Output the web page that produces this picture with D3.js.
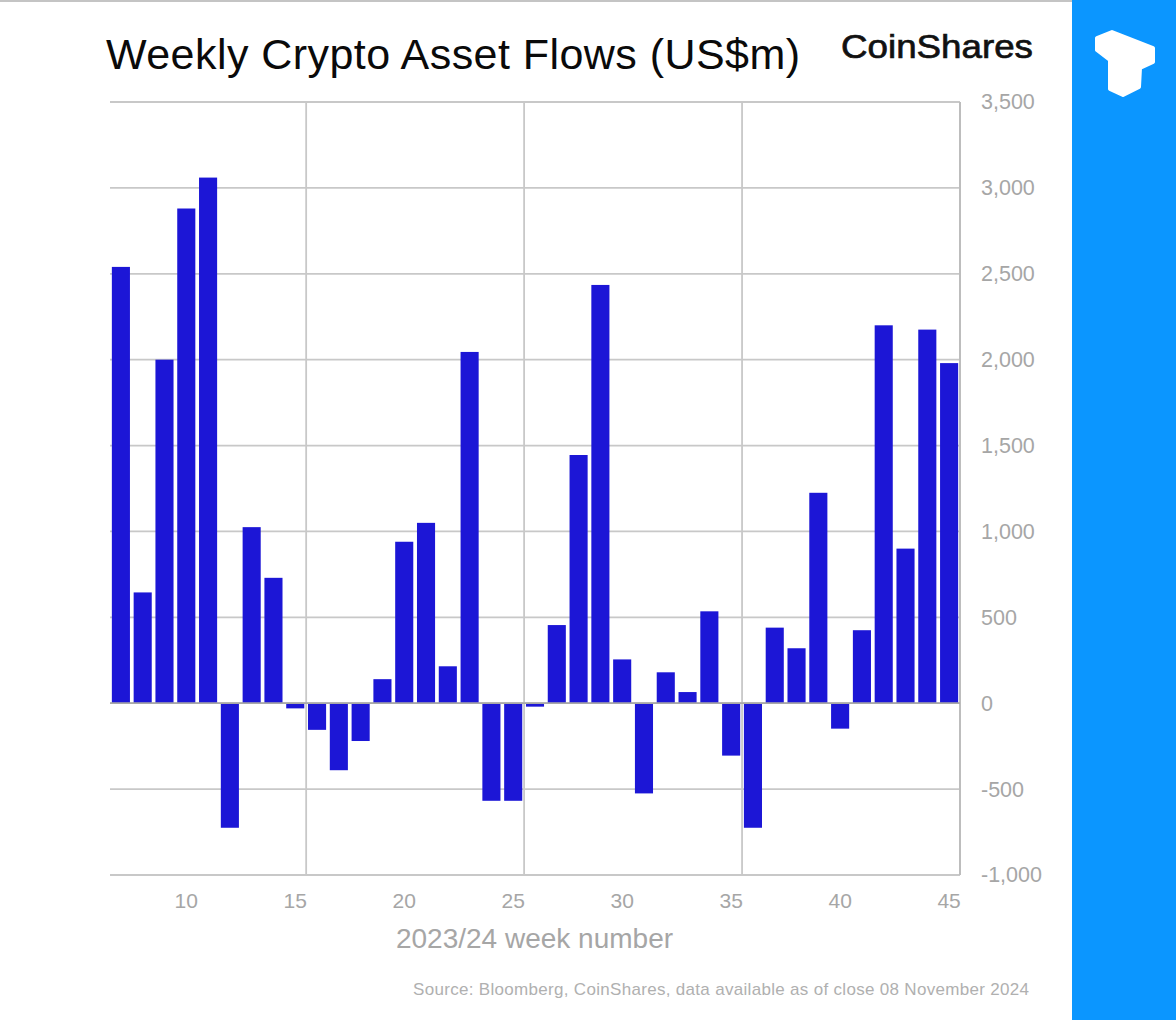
<!DOCTYPE html>
<html><head><meta charset="utf-8">
<script src="https://cdn.jsdelivr.net/npm/d3@7"></script>
<style>html,body{margin:0;padding:0;background:#fff;overflow:hidden}svg{display:block}text{font-family:"Liberation Sans",Arial,sans-serif}</style>
</head><body><svg id="c" width="1176" height="1020"></svg>
<script>
const weeks=[7,8,9,10,11,12,13,14,15,16,17,18,19,20,21,22,23,24,25,26,27,28,29,30,31,32,33,34,35,36,37,38,39,40,41,42,43,44,45];
const flows=[2540,645,2000,2880,3060,-725,1025,730,-30,-155,-390,-220,140,940,1050,215,2045,-568,-568,-20,455,1445,2435,255,-525,180,65,535,-305,-725,440,320,1225,-148,425,2200,900,2175,1980];
const yTicks=[-1000,-500,0,500,1000,1500,2000,2500,3000,3500];
const xTicks=[10,15,20,25,30,35,40,45];
const gridWeeks=[15,25,35];
const title="Weekly Crypto Asset Flows (US$m)";
const source="Source: Bloomberg, CoinShares, data available as of close 08 November 2024";
const svg=d3.select("#c");
const L=110,R=960,T=102,B=875;
const y=d3.scaleLinear().domain([-1000,3500]).range([B,T]);
const x=d3.scaleBand().domain(weeks).range([L,R]).paddingInner(0.17).paddingOuter(0.085);
const gapAfter=w=>x(w)+x.bandwidth()+(x.step()-x.bandwidth())/2;
const fmt=d3.formatLocale({decimal:".",thousands:",",grouping:[3],currency:["$",""],minus:"-"}).format(",");
svg.append("rect").attr("width",1176).attr("height",2).attr("fill","#c4c4c4");
svg.append("rect").attr("x",1072).attr("y",0).attr("width",104).attr("height",1020).attr("fill","#0b96ff");
svg.append("path").attr("d","M1097 38 L1112 32 L1153 48 L1153 62 L1140 68 L1139 87 L1123 95 L1110 89 L1110 60 L1097 50 Z").attr("fill","#fff").attr("stroke","#fff").attr("stroke-width",4).attr("stroke-linejoin","round");
svg.append("text").attr("x",106).attr("y",69).attr("font-size",43).attr("textLength",694).attr("lengthAdjust","spacing").attr("fill","#0a0a0a").text(title);
svg.append("text").attr("x",841).attr("y",58).attr("font-size",34).attr("textLength",192).attr("lengthAdjust","spacingAndGlyphs").attr("stroke","#111").attr("stroke-width",0.7).attr("fill","#111").text("CoinShares");
const g=svg.append("g");
g.selectAll(".h").data(yTicks).join("line").attr("x1",L).attr("x2",R).attr("y1",d=>y(d)).attr("y2",d=>y(d)).attr("stroke","#c8c8c8").attr("stroke-width",1.8);
g.selectAll(".v").data(gridWeeks).join("line").attr("x1",d=>gapAfter(d)).attr("x2",d=>gapAfter(d)).attr("y1",T).attr("y2",B).attr("stroke","#c8c8c8").attr("stroke-width",1.8);
g.append("line").attr("x1",R).attr("x2",R).attr("y1",T).attr("y2",B).attr("stroke","#bdbdbd").attr("stroke-width",2);
svg.append("g").selectAll("rect").data(weeks).join("rect").attr("x",d=>x(d)).attr("width",x.bandwidth()).attr("y",(d,i)=>y(Math.max(0,flows[i]))).attr("height",(d,i)=>Math.abs(y(flows[i])-y(0))).attr("fill","#1c16d6");
svg.append("line").attr("x1",L).attr("x2",R).attr("y1",y(0)).attr("y2",y(0)).attr("stroke","#a8a8a8").attr("stroke-width",1.8);
const yAxis=d3.axisRight(y).tickValues(yTicks).tickSize(0).tickPadding(21).tickFormat(fmt);
const ya=svg.append("g").attr("transform",`translate(${R},0)`).call(yAxis);
ya.select(".domain").remove();
ya.selectAll("text").attr("font-size",21.5).attr("fill","#a6a6a6").style("font-family",'"Liberation Sans",Arial,sans-serif');
const xAxis=d3.axisBottom(x).tickValues(xTicks).tickSize(0).tickPadding(18);
const xa=svg.append("g").attr("transform",`translate(0,${B})`).call(xAxis);
xa.select(".domain").remove();
xa.selectAll("text").attr("font-size",21).attr("fill","#a6a6a6").style("font-family",'"Liberation Sans",Arial,sans-serif');
svg.append("text").attr("x",534.5).attr("y",948).attr("text-anchor","middle").attr("font-size",28).attr("fill","#a6a6a6").text("2023/24 week number");
svg.append("text").attr("x",413).attr("y",995).attr("font-size",17).attr("textLength",616).attr("lengthAdjust","spacing").attr("fill","#b0b0b0").text(source);
</script></body></html>
